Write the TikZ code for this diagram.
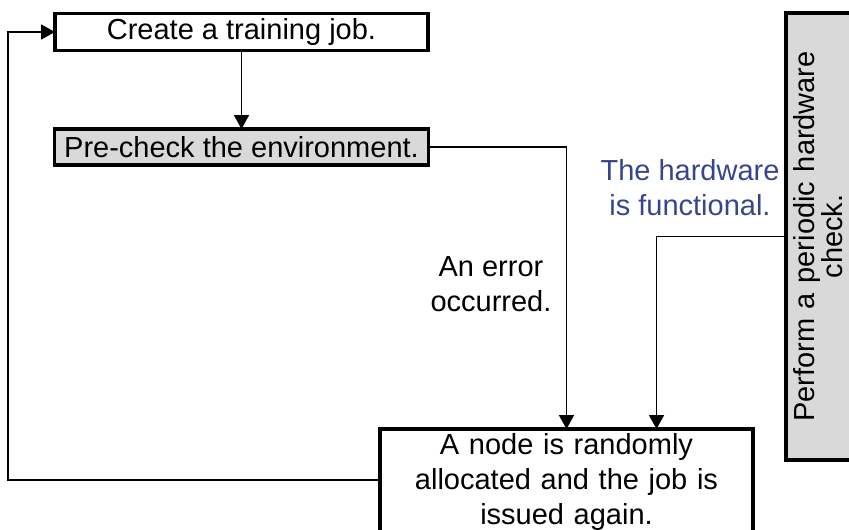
\documentclass[tikz,border=0pt]{standalone}
\usepackage{fontspec}
\setmainfont{Liberation Sans}
\usetikzlibrary{arrows.meta}

\definecolor{boxgrey}{RGB}{217,217,217}
\definecolor{lblblue}{RGB}{55,70,140}

\tikzset{
    box/.style={draw, line width=3.5pt, fill=white, inner sep=0pt, outer sep=0pt, align=center,
        font=\fontsize{29}{35}\selectfont},
    greybox/.style={box, fill=boxgrey},
    lbl/.style={align=center, inner sep=0pt, font=\fontsize{29}{35}\selectfont},
    arr/.style={line width=1.8pt, -{Triangle[width=15pt,length=14pt]}},
}

\begin{document}
\begin{tikzpicture}[x=1pt, y=-1pt]

        % Fix the page to the size of the reference
        \useasboundingbox (0,0) rectangle (849,530);

        % Boxes of the flow
        \node[box, minimum width=373, minimum height=37] (create) at (241.5,32) {Create a training job.};
        \node[greybox, minimum width=374, minimum height=36] (precheck) at (241.5,147) {Pre-check the environment.};
        \node[box, minimum width=373, minimum height=106, text width=365] (realloc) at (566.5,482)
            {A node is randomly\\allocated and the job is\\issued again.};
        \node[greybox, rotate=90, minimum width=447, minimum height=65, text width=440,
            font=\fontsize{29}{27}\selectfont] (hwcheck) at (818.5,236.5)
            {Perform a periodic hardware\\check.};

        % Labels on the connectors
        \node[lbl] (errlbl) at (491,284) {An error\\occurred.};
        \node[lbl, text=lblblue] (hwlbl) at (690,188) {The hardware\\is functional.};

        % Free corner of the loop back to the start
        \coordinate (loop) at (8,480);

        % Connectors
        \draw[arr] (create.south) -- (precheck.north);
        \draw[arr] (precheck.east) -| (realloc.north);
        \draw[arr] (hwcheck.north) -| ([xshift=90]realloc.north);
        \draw[arr] (realloc.west |- loop) -- (loop) |- (create.west);

    \end{tikzpicture}
\end{document}
